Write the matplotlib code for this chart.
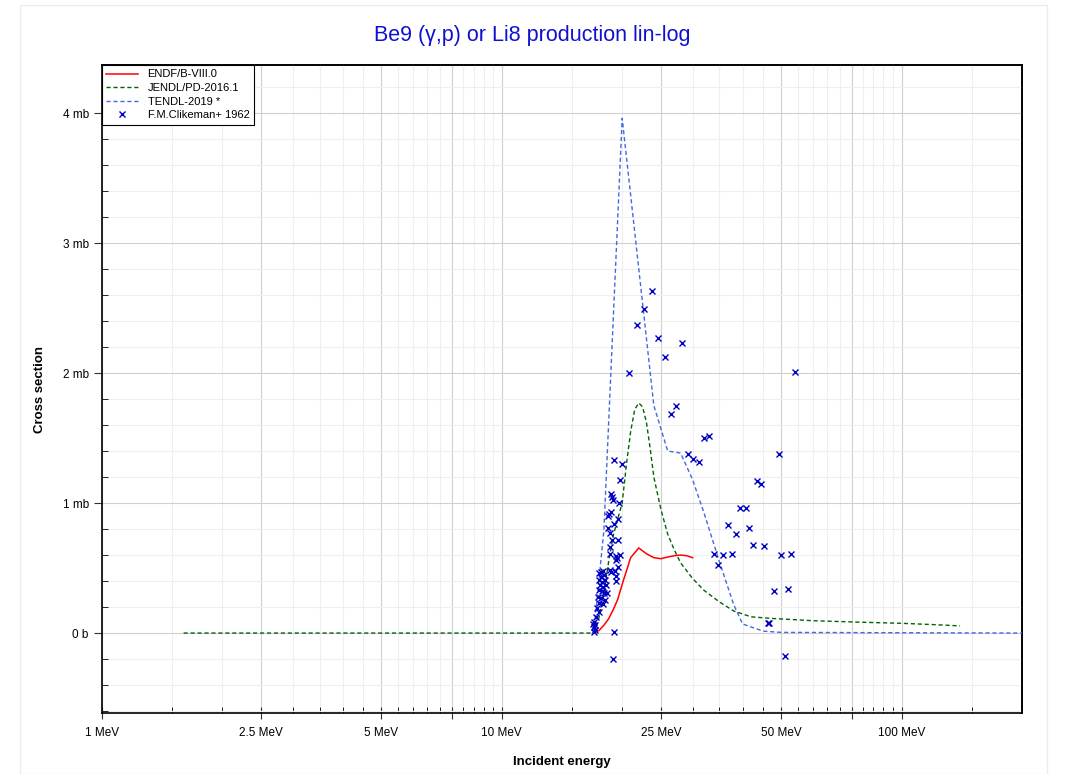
import matplotlib
matplotlib.use("Agg")
import matplotlib.pyplot as plt
from matplotlib.ticker import FixedLocator, FuncFormatter, MultipleLocator, NullFormatter
from matplotlib.patches import Rectangle

plt.rcParams['font.family'] = ['Liberation Sans', 'DejaVu Sans']

# ---------------- data (energies in MeV, cross sections in mb) ----------------
endf_E = [17.0, 17.5, 18.0, 18.5, 19.0, 19.5, 20.0, 21.0, 22.0, 23.0, 24.0, 25.0, 26.0, 27.0, 28.0, 29.0, 30.0]
endf_xs = [0.0, 0.02, 0.06, 0.11, 0.18, 0.26, 0.375, 0.58, 0.655, 0.61, 0.58, 0.572, 0.585, 0.595, 0.60, 0.595, 0.58]

jendl_E = [1.6, 16.9, 17.5, 18.0, 18.5, 19.0, 19.5, 20.0, 20.5, 21.0, 21.5, 22.0, 22.5, 23.0, 23.5, 24.0,
           25.0, 26.0, 27.0, 28.0, 30.0, 32.0, 35.0, 38.0, 42.0, 47.0, 60.0, 80.0, 100.0, 120.0, 140.0]
jendl_xs = [0.0, 0.0, 0.12, 0.3, 0.55, 0.75, 0.88, 1.0, 1.3, 1.55, 1.72, 1.77, 1.74, 1.62, 1.42, 1.2,
            0.95, 0.76, 0.64, 0.54, 0.42, 0.33, 0.24, 0.17, 0.125, 0.113, 0.095, 0.083, 0.075, 0.065, 0.055]

tendl_E = [16.9, 17.0, 18.0, 19.0, 20.0, 24.0, 26.0, 28.0, 30.0, 32.0, 35.0, 38.0, 40.0, 45.0, 50.0, 200.0]
tendl_xs = [0.0, 0.02, 0.79, 2.42, 3.96, 1.75, 1.40, 1.385, 1.18, 0.93, 0.55, 0.22, 0.07, 0.015, 0.005, 0.0]

exp_E = [23.7, 22.7, 21.8, 24.6, 28.3, 25.6, 20.8, 26.5, 27.3, 32.0, 33.0, 29.2, 30.1, 31.1,
         54.0, 49.3, 43.5, 44.6, 39.5, 40.7, 36.8, 41.5, 38.6, 42.5, 45.3, 33.9, 35.7, 37.6,
         50.0, 53.0, 34.8, 48.0, 52.1, 46.2, 46.7, 51.0,
         19.1, 20.0, 19.7, 18.8, 18.9, 19.0, 19.6, 18.8, 18.5, 18.45, 19.55, 19.1, 18.45, 18.65,
         18.85, 19.55, 18.65, 18.65, 19.3, 19.4, 19.8, 19.35, 19.5, 17.7, 17.9, 17.5, 18.0, 18.65,
         18.8, 19.2, 19.3, 19.3, 17.7, 17.5, 17.8, 18.1, 17.6, 17.9, 18.2, 17.5, 17.8, 18.0, 18.3,
         17.4, 17.7, 18.1, 17.5, 17.9, 17.3, 17.5, 17.2, 17.0, 16.9, 17.1, 17.0, 17.15, 17.0,
         19.1, 19.0]
exp_xs = [2.63, 2.49, 2.37, 2.27, 2.23, 2.12, 2.0, 1.685, 1.746, 1.50, 1.515, 1.377, 1.336, 1.318,
          2.005, 1.377, 1.17, 1.15, 0.96, 0.96, 0.83, 0.81, 0.76, 0.68, 0.67, 0.61, 0.60, 0.61,
          0.60, 0.61, 0.52, 0.32, 0.34, 0.08, 0.08, -0.18,
          1.33, 1.30, 1.18, 1.07, 1.05, 1.02, 1.0, 0.93, 0.915, 0.90, 0.877, 0.84, 0.81, 0.77,
          0.715, 0.715, 0.66, 0.61, 0.59, 0.58, 0.60, 0.56, 0.51, 0.47, 0.48, 0.46, 0.446, 0.485,
          0.47, 0.48, 0.44, 0.40, 0.43, 0.41, 0.395, 0.41, 0.37, 0.356, 0.37, 0.33, 0.32, 0.305, 0.305,
          0.28, 0.267, 0.254, 0.228, 0.223, 0.19, 0.164, 0.125, 0.087, 0.07, 0.06, 0.044, 0.023, 0.01,
          0.01, -0.2]

x_major = [1, 2.5, 5, 7.5, 10, 25, 50, 75, 100]
x_labels = {1: "1 MeV", 2.5: "2.5 MeV", 5: "5 MeV", 10: "10 MeV", 25: "25 MeV", 50: "50 MeV", 100: "100 MeV"}
x_minor = [1.5, 2, 3, 3.5, 4, 4.5, 5.5, 6, 6.5, 7, 8, 8.5, 9, 9.5,
           15, 20, 30, 35, 40, 45, 55, 60, 65, 70, 80, 85, 90, 95, 150]

# ---------------- figure ----------------
fig = plt.figure(figsize=(10.71, 7.74), dpi=100)
fig.patches.append(Rectangle((20 / 1071, 0), 1027 / 1071, 769 / 774, transform=fig.transFigure,
                             fill=False, edgecolor='#ececec', linewidth=1.0))
ax = fig.add_axes([102 / 1071, 1 - 713 / 774, 920 / 1071, 648 / 774])

ax.set_xscale('log')
ax.set_xlim(1, 200)
ax.set_ylim(-0.615, 4.37)

ax.plot(endf_E, endf_xs, color='#ff0000', lw=1.1, label='ENDF/B-VIII.0', zorder=4)
ax.plot(jendl_E, jendl_xs, color='#006400', lw=1.0, ls=(0, (3, 2)), label='JENDL/PD-2016.1', zorder=3)
ax.plot(tendl_E, tendl_xs, color='#4169e1', lw=1.0, ls=(0, (3, 2)), label='TENDL-2019 *', zorder=3)
ax.plot(exp_E, exp_xs, ls='none', marker='x', ms=3.8, mew=1.0, color='#0000c0',
        label='F.M.Clikeman+ 1962', zorder=5)

# ticks
ax.xaxis.set_major_locator(FixedLocator(x_major))
ax.xaxis.set_minor_locator(FixedLocator(x_minor))
ax.xaxis.set_major_formatter(FuncFormatter(lambda v, p: x_labels.get(round(v, 3), "")))
ax.xaxis.set_minor_formatter(NullFormatter())
ax.yaxis.set_major_locator(MultipleLocator(1))
ax.yaxis.set_minor_locator(MultipleLocator(0.2))
ax.yaxis.set_major_formatter(FuncFormatter(lambda v, p: "0 b" if abs(v) < 1e-9 else f"{v:g} mb"))

ax.tick_params(axis='both', which='both', top=False, right=False)
ax.tick_params(axis='both', which='major', labelsize=8.5, color='#333333')
ax.tick_params(axis='y', which='major', direction='out', length=6, width=0.8)
ax.tick_params(axis='y', which='minor', direction='in', length=4, width=0.6)
ax.tick_params(axis='x', which='major', direction='inout', length=8, width=0.8, pad=6)
ax.tick_params(axis='x', which='minor', direction='in', length=4, width=0.6)

# mirrored inward ticks on top and right
sec_x = ax.secondary_xaxis('top')
sec_x.xaxis.set_major_locator(FixedLocator(x_major))
sec_x.xaxis.set_minor_locator(FixedLocator(x_minor))
sec_x.xaxis.set_major_formatter(NullFormatter())
sec_x.xaxis.set_minor_formatter(NullFormatter())
sec_x.tick_params(which='both', direction='in', length=3, width=0.8, color='#999999')
sec_y = ax.secondary_yaxis('right')
sec_y.yaxis.set_major_locator(MultipleLocator(1))
sec_y.yaxis.set_minor_locator(MultipleLocator(0.2))
sec_y.yaxis.set_major_formatter(NullFormatter())
sec_y.tick_params(which='both', direction='in', length=4, width=0.7, color='#333333')
for s in sec_x.spines.values():
    s.set_linewidth(1.2)
for s in sec_y.spines.values():
    s.set_linewidth(1.2)

ax.grid(True, which='major', color='#d0d0d0', lw=0.8)
ax.grid(True, which='minor', color='#efefef', lw=0.8)
ax.set_axisbelow(True)

for s in ax.spines.values():
    s.set_linewidth(1.2)
    s.set_color('black')

ax.set_xlabel('Incident energy', fontsize=9.5, fontweight='bold', labelpad=12)
ax.set_ylabel('Cross section', fontsize=9.5, fontweight='bold', labelpad=12)
fig.text(532 / 1071, 1 - 35 / 774, 'Be9 (γ,p) or Li8 production lin-log', color='#1010d0',
         fontsize=15.5, ha='center', va='center')

leg = ax.legend(loc='upper left', borderaxespad=0.0, fontsize=8.0, frameon=True, fancybox=False,
                edgecolor='black', framealpha=1.0, handlelength=2.8, borderpad=0.4,
                labelspacing=0.32, handletextpad=0.9)
leg.get_frame().set_linewidth(0.8)

fig.savefig('out.png', dpi=100)
